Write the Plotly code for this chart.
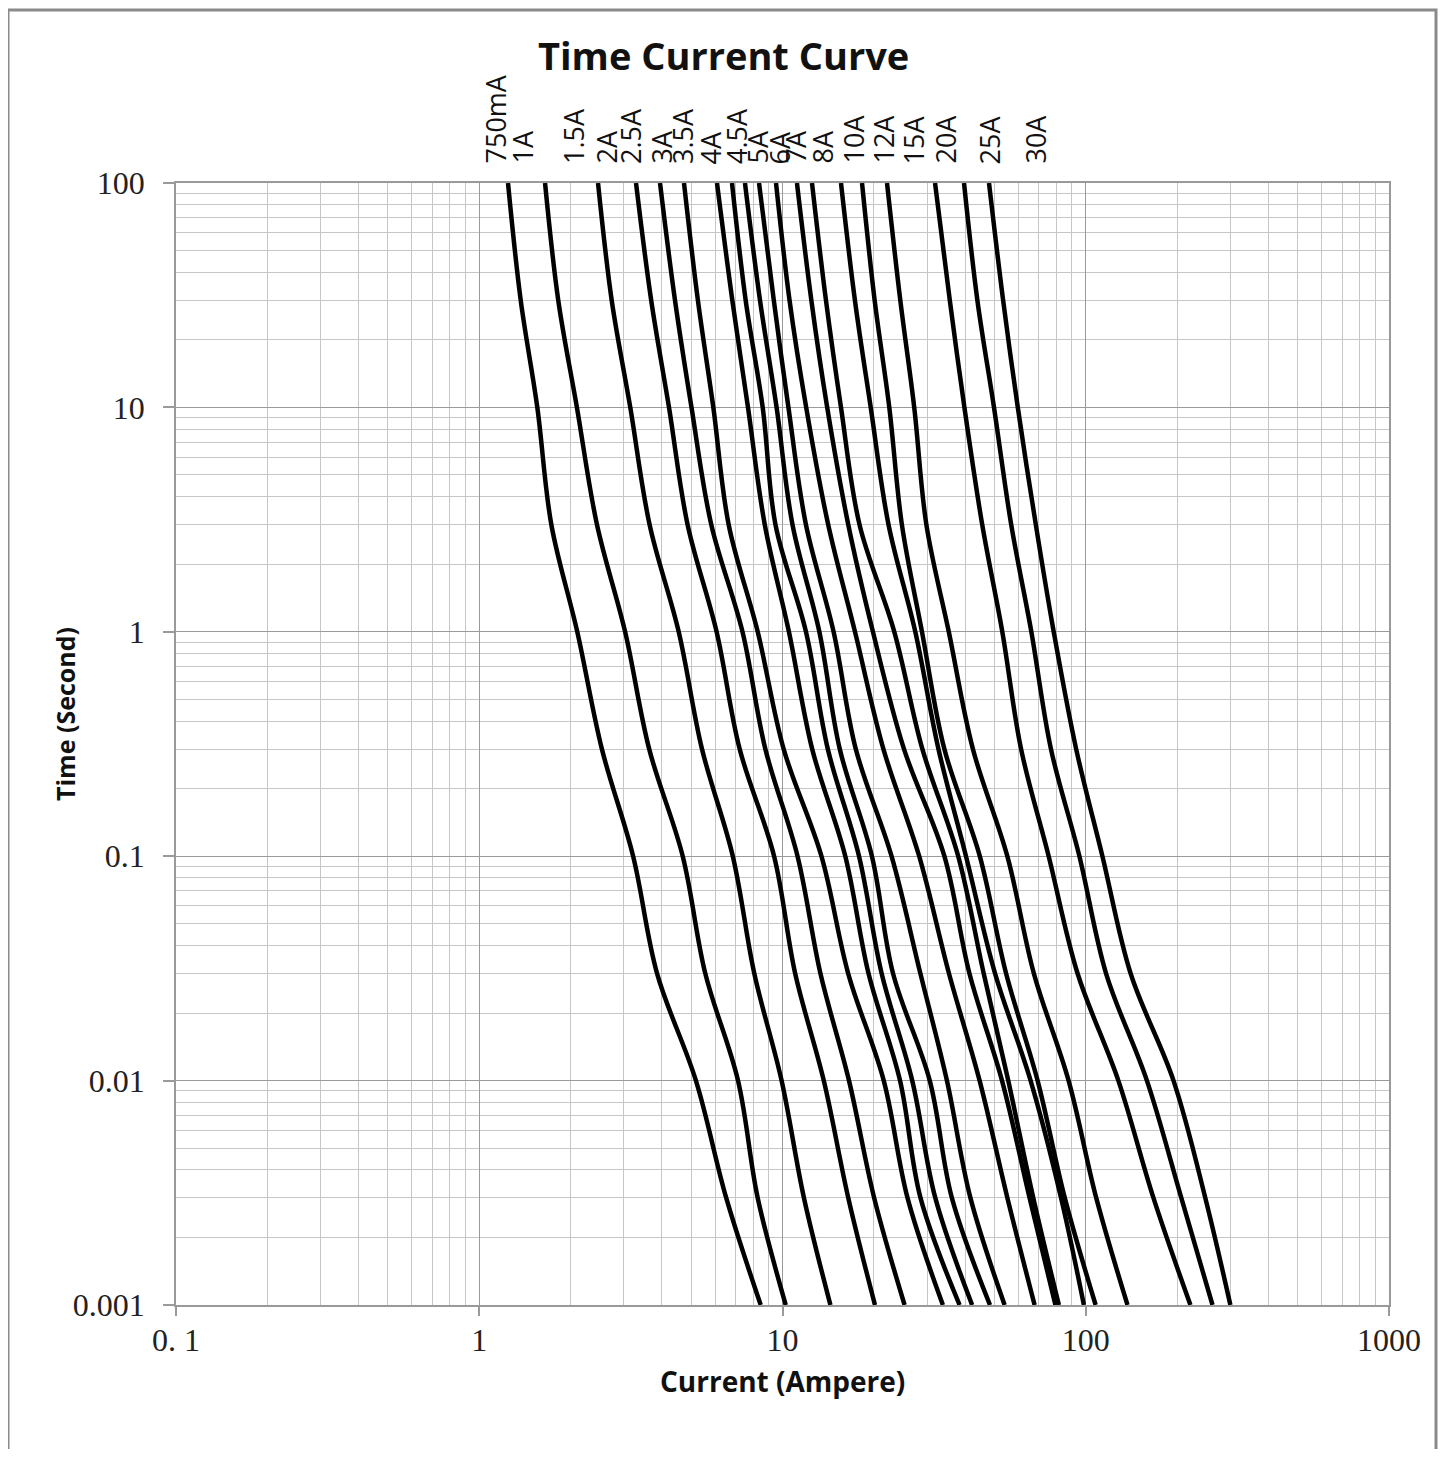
import math
import plotly.graph_objects as go

# ---- data ----
labels = ["750mA", "1A", "1.5A", "2A", "2.5A", "3A", "3.5A", "4A", "4.5A", "5A",
          "6A", "7A", "8A", "10A", "12A", "15A", "20A", "25A", "30A"]

# time levels (seconds) at which each curve's current was read
times = [100, 30, 10, 3, 1, 0.3, 0.1, 0.03, 0.01, 0.003, 0.001]

i_750mA = [1.244, 1.370, 1.554, 1.729, 2.105, 2.538, 3.217, 3.859, 5.182, 6.523, 8.476]
i_1A    = [1.648, 1.822, 2.099, 2.445, 3.027, 3.635, 4.688, 5.565, 7.133, 8.284, 10.25]
i_1_5A  = [2.464, 2.734, 3.148, 3.646, 4.547, 5.427, 6.857, 8.072, 9.931, 11.77, 14.39]
i_2A    = [3.288, 3.690, 4.224, 4.865, 6.063, 7.226, 9.382, 11.01, 13.68, 16.48, 20.18]
i_2_5A  = [3.945, 4.421, 5.011, 5.824, 7.380, 8.781, 11.21, 13.34, 16.57, 20.06, 25.27]
i_3A    = [4.733, 5.260, 5.914, 6.646, 8.284, 10.09, 13.44, 16.47, 21.57, 25.84, 33.80]
i_3_5A  = [6.081, 6.832, 7.694, 8.742, 10.50, 12.53, 16.11, 19.22, 24.41, 28.52, 38.37]
i_4A    = [6.815, 7.561, 8.604, 9.482, 11.95, 14.11, 17.88, 21.23, 26.78, 31.91, 42.20]
i_4_5A  = [7.520, 8.430, 9.561, 10.79, 13.23, 15.45, 19.72, 23.15, 30.59, 36.19, 48.33]
i_5A    = [8.366, 9.361, 10.46, 11.95, 14.74, 17.45, 22.89, 28.49, 34.85, 41.66, 54.01]
i_6A    = [9.519, 10.55, 11.97, 14.15, 17.34, 21.52, 28.23, 35.40, 44.67, 55.16, 67.82]
i_7A    = [11.16, 12.45, 14.04, 16.48, 19.87, 25.16, 34.19, 41.35, 52.95, 65.29, 79.43]
i_8A    = [12.51, 13.91, 15.59, 17.95, 23.37, 28.93, 37.96, 46.08, 55.51, 67.15, 81.55]
i_10A   = [15.59, 17.33, 19.54, 22.37, 27.41, 32.69, 40.28, 50.24, 65.79, 82.92, 98.60]
i_12A   = [18.29, 20.13, 22.50, 24.76, 28.84, 34.19, 44.73, 54.62, 69.38, 85.29, 107.8]
i_15A   = [22.11, 24.46, 27.19, 29.82, 35.35, 42.46, 55.13, 67.45, 87.79, 108.3, 137.3]
i_20A   = [31.84, 35.62, 39.80, 45.56, 53.07, 61.21, 75.46, 93.99, 128.1, 167.2, 221.4]
i_25A   = [39.68, 43.92, 49.82, 56.78, 66.16, 76.79, 95.29, 116.7, 159.1, 206.6, 261.8]
i_30A   = [47.97, 53.40, 59.69, 68.45, 78.41, 92.99, 113.5, 140.6, 194.7, 247.9, 299.9]

curves = [i_750mA, i_1A, i_1_5A, i_2A, i_2_5A, i_3A, i_3_5A, i_4A, i_4_5A, i_5A,
          i_6A, i_7A, i_8A, i_10A, i_12A, i_15A, i_20A, i_25A, i_30A]

x_tickvals = [0.1, 1, 10, 100, 1000]
x_ticktext = ["0. 1", "1", "10", "100", "1000"]
y_tickvals = [0.001, 0.01, 0.1, 1, 10, 100]
y_ticktext = ["0.001", "0.01", "0.1", "1", "10", "100"]

# ---- layout constants ----
label_pos = [1.127, 1.384, 2.038, 2.618, 3.141, 3.976, 4.663, 5.81, 7.028, 8.24,
             9.81, 11.0, 13.5, 17.08, 21.45, 27.14, 34.35, 48.32, 68.03]

OFF = 8  # page body margin
W, H = 1446 - 2 * OFF, 1457 - 2 * OFF
L, R, T, B = 176 - OFF, 1389 - OFF, 183 - OFF, 1305 - OFF
pw, ph = R - L, B - T


def px(sx):
    return (sx - OFF - L) / pw


def py(sy):
    return (B - (sy - OFF)) / ph


fig = go.Figure()
for name, cur in zip(labels, curves):
    fig.add_trace(go.Scatter(
        x=cur, y=times, mode="lines", name=name,
        line=dict(color="black", width=4.5, shape="spline", smoothing=1.0),
        showlegend=False, hoverinfo="x+y+name"))

major = "#9a9a9a"
minor = "#c6c6c6"
tickfont = dict(family="Liberation Serif, DejaVu Serif, serif", size=32, color="#222")

fig.update_xaxes(type="log", range=[-1, 3], tickvals=x_tickvals, ticktext=x_ticktext,
                 showgrid=True, gridcolor=major, gridwidth=1.3,
                 minor=dict(dtick="D1", showgrid=True, gridcolor=minor, gridwidth=1.2,
                            ticks=""),
                 ticks="outside", ticklen=9, tickcolor=major, tickwidth=1.5,
                 showline=True, linecolor=major, linewidth=1.5, mirror=True,
                 tickfont=tickfont, ticklabelstandoff=-3, zeroline=False)
fig.update_yaxes(type="log", range=[-3, 2], tickvals=y_tickvals, ticktext=y_ticktext,
                 showgrid=True, gridcolor=major, gridwidth=1.3,
                 minor=dict(dtick="D1", showgrid=True, gridcolor=minor, gridwidth=1.2,
                            ticks=""),
                 ticks="outside", ticklen=11, tickcolor=major, tickwidth=1.5,
                 showline=True, linecolor=major, linewidth=1.5, mirror=True,
                 tickfont=tickfont, ticklabelstandoff=12, zeroline=False)

annotations = []
for name, xp in zip(labels, label_pos):
    annotations.append(dict(
        x=math.log10(xp), y=1, xref="x", yref="paper", text=name, showarrow=False,
        textangle=-90, xanchor="center", yanchor="bottom", yshift=17,
        font=dict(family="Open Sans, Noto Sans, sans-serif", size=27, color="#111")))

annotations.append(dict(
    x=px(723), y=py(55), xref="paper", yref="paper",
    text="<b>Time Current Curve</b>", showarrow=False, xanchor="center", yanchor="middle",
    font=dict(family="Open Sans, Noto Sans, sans-serif", size=38, color="#111")))
annotations.append(dict(
    x=px(782), y=py(1381), xref="paper", yref="paper",
    text="<b>Current (Ampere)</b>", showarrow=False, xanchor="center", yanchor="middle",
    font=dict(family="Open Sans, Noto Sans, sans-serif", size=28, color="#111")))
annotations.append(dict(
    x=px(65), y=py(714), xref="paper", yref="paper",
    text="<b>Time (Second)</b>", showarrow=False, xanchor="center", yanchor="middle",
    textangle=-90,
    font=dict(family="Open Sans, Noto Sans, sans-serif", size=25, color="#111")))

# outer grey frame (left, top, right edges; bottom runs off the picture)
shapes = [dict(type="rect", xref="paper", yref="paper", layer="below",
               x0=px(8), x1=px(1436), y0=py(1480), y1=py(10),
               line=dict(color="#8a8a8a", width=3), fillcolor="rgba(0,0,0,0)")]

fig.update_layout(width=W, height=H, margin=dict(l=L, r=W - R, t=T, b=H - B),
                  paper_bgcolor="white", plot_bgcolor="white",
                  annotations=annotations, shapes=shapes)

fig.write_html("out.html")
